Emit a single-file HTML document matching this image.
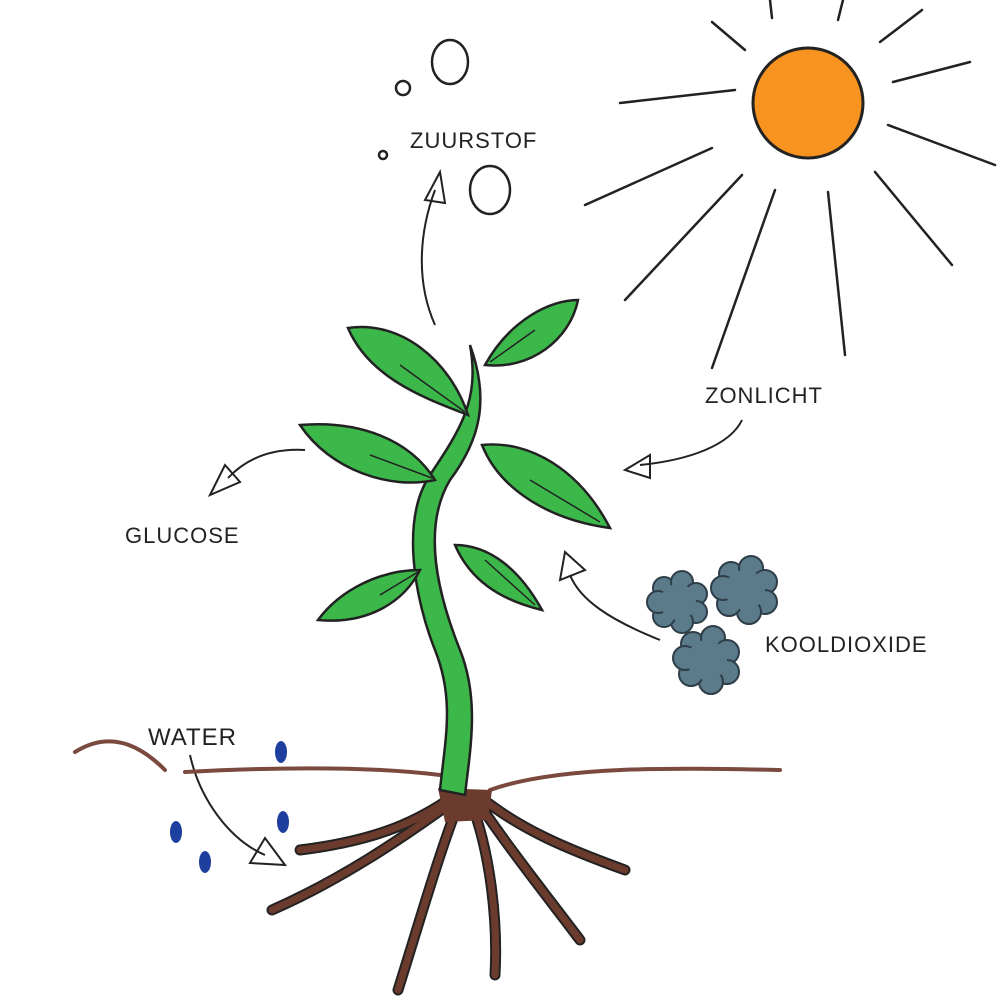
<!DOCTYPE html>
<html><head><meta charset="utf-8"><style>
html,body{margin:0;padding:0;background:#fff}
svg{display:block}
text{font-family:"Liberation Sans",sans-serif;fill:#222;letter-spacing:1px}
</style></head><body>
<svg width="1000" height="1000" viewBox="0 0 1000 1000" xmlns="http://www.w3.org/2000/svg">
<rect width="1000" height="1000" fill="#fff"/>
<g stroke="#222" stroke-width="2.5" stroke-linecap="round" fill="none">
<line x1="770" y1="0" x2="772" y2="18"/>
<line x1="843" y1="0" x2="838" y2="20"/>
<line x1="880" y1="42" x2="922" y2="10"/>
<line x1="893" y1="82" x2="970" y2="62"/>
<line x1="888" y1="125" x2="995" y2="165"/>
<line x1="875" y1="172" x2="952" y2="265"/>
<line x1="828" y1="192" x2="845" y2="355"/>
<line x1="775" y1="190" x2="712" y2="368"/>
<line x1="742" y1="175" x2="625" y2="300"/>
<line x1="712" y1="148" x2="585" y2="205"/>
<line x1="735" y1="90" x2="620" y2="103"/>
<line x1="745" y1="50" x2="712" y2="22"/>
</g>
<circle cx="808" cy="103" r="55" fill="#f7931e" stroke="#222" stroke-width="3"/>
<g fill="none" stroke="#222" stroke-width="2.5">
<ellipse cx="450" cy="62" rx="18" ry="22"/>
<circle cx="403" cy="88" r="7"/>
<circle cx="383" cy="155" r="4"/>
<ellipse cx="490" cy="190" rx="20" ry="24"/>
</g>
<text x="410" y="148" font-size="22">ZUURSTOF</text>
<g fill="none" stroke="#222" stroke-width="2">
<path d="M435 325 C415 280 420 230 435 190"/>
<path d="M425 200 L440 172 L445 203 Z"/>
<path d="M305 450 C270 448 245 460 228 478"/>
<path d="M210 495 L225 465 L240 482 Z"/>
<path d="M742 420 C730 445 690 460 640 465"/>
<path d="M625 470 L650 455 L650 478 Z"/>
<path d="M660 640 C610 620 580 600 570 575"/>
<path d="M560 580 L565 552 L585 570 Z"/>
<path d="M190 755 C200 800 230 840 265 855"/>
<path d="M250 863 L265 838 L285 865 Z"/>
</g>
<text x="705" y="403" font-size="22">ZONLICHT</text>
<text x="125" y="543" font-size="22">GLUCOSE</text>
<text x="148" y="745" font-size="24">WATER</text>
<text x="765" y="652" font-size="22">KOOLDIOXIDE</text>
<!-- CO2 clouds (bumpy) -->
<g fill="#5b7a8a" stroke="#2d3e48" stroke-width="2">
<g transform="translate(678,602)">
<circle cx="-14" cy="-14" r="11"/><circle cx="4" cy="-20" r="11"/><circle cx="18" cy="-8" r="11"/><circle cx="18" cy="10" r="11"/><circle cx="4" cy="20" r="11"/><circle cx="-14" cy="14" r="11"/><circle cx="-20" cy="0" r="11"/><circle cx="0" cy="0" r="18" stroke="none"/>
</g>
<g transform="translate(745,590)">
<circle cx="-14" cy="-16" r="12"/><circle cx="6" cy="-22" r="12"/><circle cx="20" cy="-8" r="12"/><circle cx="20" cy="12" r="12"/><circle cx="4" cy="22" r="12"/><circle cx="-16" cy="14" r="12"/><circle cx="-22" cy="-2" r="12"/><circle cx="0" cy="0" r="20" stroke="none"/>
</g>
<g transform="translate(707,660)">
<circle cx="-14" cy="-16" r="12"/><circle cx="6" cy="-22" r="12"/><circle cx="20" cy="-8" r="12"/><circle cx="20" cy="12" r="12"/><circle cx="4" cy="22" r="12"/><circle cx="-16" cy="14" r="12"/><circle cx="-22" cy="-2" r="12"/><circle cx="0" cy="0" r="20" stroke="none"/>
</g>
</g>
<g fill="none" stroke="#7a4a3e" stroke-width="4" stroke-linecap="round">
<path d="M75 752 C110 730 140 745 165 770"/>
<path d="M185 772 C260 768 360 765 440 775"/>
<path d="M490 790 C560 765 680 768 780 770"/>
</g>
<!-- roots as stroked strands -->
<g fill="none" stroke-linecap="round">
<g stroke="#222" stroke-width="11">
<path d="M455 795 C420 820 380 840 300 850"/>
<path d="M455 800 C400 840 340 880 272 910"/>
<path d="M460 800 C440 850 420 920 398 990"/>
<path d="M470 800 C490 850 498 920 495 975"/>
<path d="M475 798 C510 850 550 900 580 940"/>
<path d="M478 795 C520 830 570 850 625 870"/>
</g>
<g stroke="#6b3b2e" stroke-width="7">
<path d="M455 795 C420 820 380 840 300 850"/>
<path d="M455 800 C400 840 340 880 272 910"/>
<path d="M460 800 C440 850 420 920 398 990"/>
<path d="M470 800 C490 850 498 920 495 975"/>
<path d="M475 798 C510 850 550 900 580 940"/>
<path d="M478 795 C520 830 570 850 625 870"/>
</g>
</g>
<path d="M438 788 L492 790 L488 820 L445 822 Z" fill="#6b3b2e"/>
<path d="M470 345 C490 400 480 440 450 480 C420 530 440 600 460 650 C480 700 470 750 465 795 L440 790 C445 740 455 700 435 650 C415 600 400 520 430 475 C460 430 480 400 470 345 Z" fill="#3cb84a" stroke="#222" stroke-width="2.5"/>
<g fill="#3cb84a" stroke="#222" stroke-width="2.5">
<path d="M468 415 C430 400 370 380 348 328 C400 320 450 360 468 415 Z"/>
<path d="M485 365 C510 320 550 300 578 300 C570 340 530 370 485 365 Z"/>
<path d="M435 480 C390 490 330 470 300 425 C360 420 410 440 435 480 Z"/>
<path d="M482 445 C530 440 580 470 610 528 C550 520 500 490 482 445 Z"/>
<path d="M420 570 C380 570 340 590 318 620 C370 625 405 600 420 570 Z"/>
<path d="M455 545 C490 545 520 570 542 610 C500 600 470 580 455 545 Z"/>
</g>
<g fill="none" stroke="#222" stroke-width="1.5">
<path d="M400 365 L465 412"/><path d="M535 330 L490 362"/><path d="M370 455 L432 478"/>
<path d="M530 480 L600 522"/><path d="M380 595 L418 572"/><path d="M485 560 L535 605"/>
</g>
<g fill="#1f3f9e">
<ellipse cx="281" cy="752" rx="6" ry="11"/>
<ellipse cx="283" cy="822" rx="6" ry="11"/>
<ellipse cx="176" cy="832" rx="6" ry="11"/>
<ellipse cx="205" cy="862" rx="6" ry="11"/>
</g>
</svg>
</body></html>
